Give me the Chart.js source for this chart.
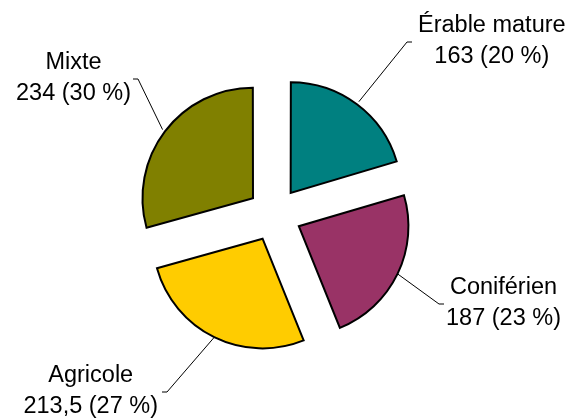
<!DOCTYPE html>
<html><head><meta charset="utf-8">
<script src="https://cdn.jsdelivr.net/npm/chart.js@4"></script>
<style>html,body{margin:0;padding:0;background:#fff}#wrap{width:572px;height:419px;position:relative}</style>
</head><body><div id="wrap"><canvas id="c"></canvas></div>
<script>
const categories = ['Érable mature', 'Coniférien', 'Agricole', 'Mixte'];
const values = [163, 187, 213.5, 234];
const valueLabels = ['163', '187', '213,5', '234'];
const percentLabels = ['20 %', '23 %', '27 %', '30 %'];
const sliceColors = ['#008080', '#993366', '#FFCC00', '#808000'];

// label elbow positions relative to the pie centre (px), side of text, gap
const labelLayout = [
  { ex: 132.5, ey: -172.5, side: 1, gap: 6 },
  { ex: 164.5, ey: 89.5, side: 1, gap: 2 },
  { ex: -107.5, ey: 177.5, side: -1, gap: 4 },
  { ex: -136.5, ey: -135.5, side: -1, gap: 2 }
];
const FONT = '23.5px "Liberation Sans", Arial, sans-serif';

const labelPlugin = {
  id: 'pieLabels',
  afterDatasetsDraw(chart) {
    const ctx = chart.ctx;
    const meta = chart.getDatasetMeta(0);
    ctx.save();
    ctx.font = FONT;
    ctx.fillStyle = '#000';
    ctx.strokeStyle = '#000';
    ctx.lineWidth = 1;
    meta.data.forEach((el, i) => {
      const off = (el.options.offset || 0) / 4;
      const circ = el.endAngle - el.startAngle;
      const fix = 1 - Math.sin(Math.min(Math.PI, circ));
      const r = el.outerRadius + off * 4 * fix;
      const mid = (el.startAngle + el.endAngle) / 2;
      const cx = el.x + Math.cos(mid) * off;
      const cy = el.y + Math.sin(mid) * off;
      const px = cx + Math.cos(mid) * r;
      const py = cy + Math.sin(mid) * r;
      const L = labelLayout[i];
      const exx = el.x + L.ex, eyy = el.y + L.ey;
      const tx = exx + L.side * 5;
      ctx.beginPath();
      ctx.moveTo(px, py);
      ctx.lineTo(exx, eyy);
      ctx.lineTo(tx, eyy);
      ctx.stroke();
      const l1 = categories[i];
      const l2 = valueLabels[i] + ' (' + percentLabels[i] + ')';
      const w = Math.max(ctx.measureText(l1).width, ctx.measureText(l2).width);
      const center = tx + L.side * (L.gap + w / 2);
      ctx.textAlign = 'center';
      ctx.textBaseline = 'alphabetic';
      ctx.fillText(l1, center, eyy - 10);
      ctx.fillText(l2, center, eyy + 20.5);
    });
    ctx.restore();
  }
};

new Chart(document.getElementById('c'), {
  type: 'pie',
  data: {
    labels: categories,
    datasets: [{
      data: values,
      backgroundColor: sliceColors,
      borderColor: '#000',
      borderWidth: 2,
      borderJoinStyle: 'miter',
      offset: 108,
      hoverOffset: 0
    }]
  },
  options: {
    responsive: true,
    maintainAspectRatio: false,
    animation: false,
    radius: 109.5,
    layout: { padding: { left: 0, right: 23, top: 10, bottom: 0 } },
    plugins: { legend: { display: false }, tooltip: { enabled: false } },
    events: []
  },
  plugins: [labelPlugin]
});
</script>
</body></html>
